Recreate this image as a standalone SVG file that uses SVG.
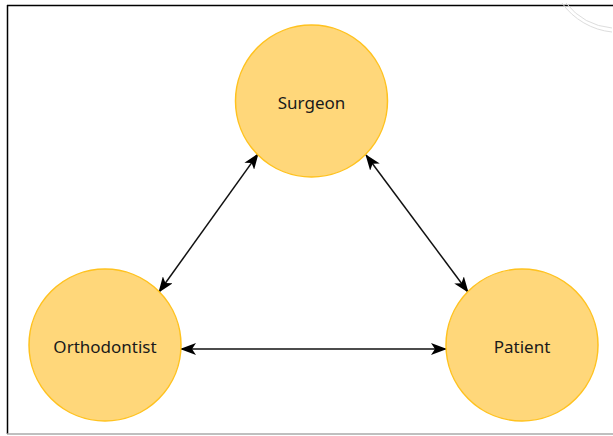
<svg xmlns="http://www.w3.org/2000/svg" width="613" height="436" viewBox="0 0 613 436">
  <defs>
    <marker id="ah" viewBox="0 0 16 12" refX="15" refY="6" markerWidth="16" markerHeight="12" markerUnits="userSpaceOnUse" orient="auto-start-reverse">
      <path d="M0,0 L16,6 L0,12 L4,6 Z" fill="#000"/>
    </marker>
    <style>
      .node { fill: #FFD77A; stroke: #FFC21F; stroke-width: 1.5; }
      .label { font-family: "Noto Sans", "Open Sans", sans-serif; font-size: 17px; fill: #1a1a1a; text-anchor: middle; dominant-baseline: central; }
      .edge { stroke: #111; stroke-width: 1.5; fill: none; marker-start: url(#ah); marker-end: url(#ah); }
    </style>
  </defs>
  <rect width="613" height="436" fill="#fff"/>
  <g id="frame" fill="none">
    <line x1="7" y1="5.5" x2="613" y2="5.5" stroke="#000" stroke-width="1.5"/>
    <line x1="7.5" y1="5" x2="7.5" y2="434" stroke="#000" stroke-width="1.5"/>
    <line x1="7" y1="434" x2="613" y2="434" stroke="#aaa" stroke-width="1.5"/>
  </g>
  <g id="watermark" fill="none" stroke="#ddd" stroke-width="1">
    <path d="M562,3 A70,70 0 0 0 612,32"/>
    <path d="M566,3 A66,66 0 0 0 612,28"/>
  </g>
  <g id="connectors">
    <line class="edge" x1="258" y1="154" x2="159" y2="292"/>
    <line class="edge" x1="366" y1="155" x2="468" y2="292"/>
    <line class="edge" x1="181" y1="349" x2="446" y2="349"/>
  </g>
  <g id="surgeon">
    <circle class="node" cx="311.5" cy="101" r="76"/>
    <text class="label" x="311.5" y="102">Surgeon</text>
  </g>
  <g id="orthodontist">
    <circle class="node" cx="105" cy="345" r="76"/>
    <text class="label" x="105" y="346">Orthodontist</text>
  </g>
  <g id="patient">
    <circle class="node" cx="522" cy="345" r="76"/>
    <text class="label" x="522" y="346">Patient</text>
  </g>
</svg>
